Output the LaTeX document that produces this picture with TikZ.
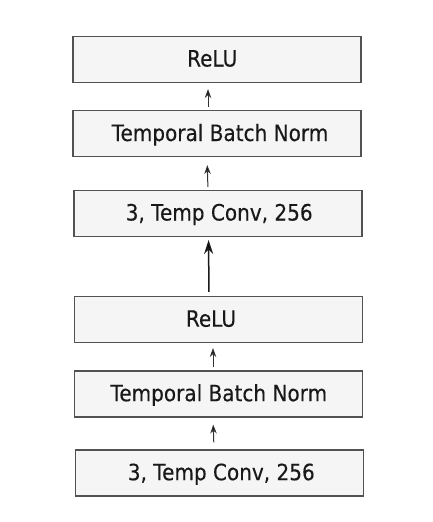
\documentclass[tikz,border=0pt]{standalone}
\usepackage{fontspec}
\setmainfont{DejaVu Sans}[FakeStretch=0.89,FakeBold=0.2]
\usetikzlibrary{arrows.meta}
\begin{document}
\begin{tikzpicture}[x=1pt,y=-1pt,
  blockbox/.style={draw=black!68, line width=1.1pt, fill=black!4, minimum width=288pt, minimum height=46pt, inner sep=0pt},
  blocktext/.style={anchor=base, inner sep=0pt, text=black!90, font=\fontsize{22.5}{27}\selectfont},
  smallarrow/.style={draw=black!80, line width=1pt, -{Stealth[length=9pt,width=6.5pt,fill=black]}},
  bigarrow/.style={draw=black!90, line width=1.5pt, -{Stealth[length=14pt,width=9pt,fill=black]}}]
\useasboundingbox (0,0) rectangle (433,522);
\node[blockbox] (b1) at (217,59.5) {};
\node[blockbox] (b2) at (217,133.5) {};
\node[blockbox] (b3) at (218,213.5) {};
\node[blockbox] (b4) at (218.5,319.5) {};
\node[blockbox] (b5) at (218.5,394) {};
\node[blockbox] (b6) at (219.5,473) {};
\node[blocktext] (t1) at (212.2,66.5) {ReLU};
\node[blocktext] (t2) at (220,141) {Temporal Batch Norm};
\node[blocktext] (t3) at (219.2,220.5) {3, Temp Conv, 256};
\node[blocktext] (t4) at (211,326.7) {ReLU};
\node[blocktext] (t5) at (218.8,401.2) {Temporal Batch Norm};
\node[blocktext] (t6) at (221.3,480.2) {3, Temp Conv, 256};
\draw[smallarrow, shorten <=3pt, shorten >=6pt] ([xshift=-9pt]b2.north) -- ([xshift=-9pt]b1.south);
\draw[smallarrow, shorten <=3pt, shorten >=8pt] ([xshift=-10pt]b3.north) -- ([xshift=-10pt]b2.south);
\draw[bigarrow, shorten <=4pt, shorten >=3pt] ([xshift=-9.5pt]b4.north) -- ([xshift=-9.5pt]b3.south);
\draw[smallarrow, shorten <=3pt, shorten >=5pt] ([xshift=-5.5pt]b5.north) -- ([xshift=-5.5pt]b4.south);
\draw[smallarrow, shorten <=7pt, shorten >=7pt] ([xshift=-5.5pt]b6.north) -- ([xshift=-5.5pt]b5.south);
\end{tikzpicture}
\end{document}
